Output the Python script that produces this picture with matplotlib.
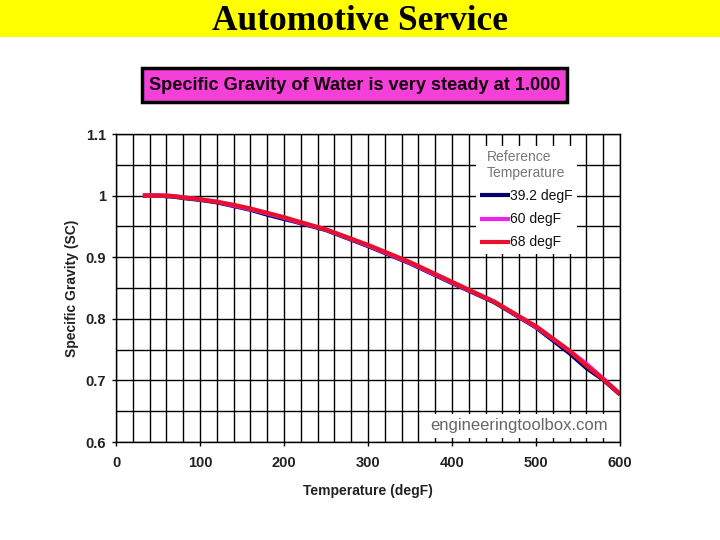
import matplotlib
matplotlib.use("Agg")
import matplotlib.pyplot as plt
from matplotlib.patches import Rectangle
import numpy as np

temps = [32, 40, 50, 60, 70, 80, 100, 120, 140, 160, 180, 200, 212, 250, 300, 350, 400, 450, 500, 540, 560, 580, 600]
sg_39 = [1.000, 1.000, 1.000, 0.999, 0.998, 0.996, 0.993, 0.989, 0.983, 0.977, 0.969, 0.962, 0.958, 0.944, 0.918, 0.890, 0.858, 0.827, 0.786, 0.744, 0.720, 0.701, 0.677]
sg_60 = [1.000, 1.000, 1.000, 1.000, 0.999, 0.997, 0.994, 0.990, 0.984, 0.978, 0.971, 0.964, 0.959, 0.945, 0.919, 0.891, 0.859, 0.828, 0.787, 0.748, 0.727, 0.703, 0.678]
sg_68 = [1.000, 1.000, 1.000, 1.000, 0.999, 0.997, 0.994, 0.990, 0.985, 0.979, 0.972, 0.965, 0.960, 0.945, 0.920, 0.892, 0.860, 0.828, 0.788, 0.748, 0.724, 0.702, 0.678]
series_labels = ["39.2 degF", "60 degF", "68 degF"]
series_colors = ["#000066", "#EE22E8", "#E8102C"]

title_text = "Automotive Service"
subtitle_text = "Specific Gravity of Water is very steady at 1.000"
xlabel = "Temperature (degF)"
ylabel = "Specific Gravity (SC)"
watermark = "engineeringtoolbox.com"

fig = plt.figure(figsize=(7.2, 5.4), dpi=100)
fig.patch.set_facecolor("white")

# yellow band
fig.patches.append(Rectangle((0, 1 - 37/540), 1, 37/540, transform=fig.transFigure,
                             facecolor="#FFFF00", edgecolor="none", zorder=0))
fig.text(360/720, 1 - 30/540, title_text, ha="center", va="baseline",
         fontsize=25.5, fontweight="bold", family="Liberation Serif", color="black")

# magenta box
fig.patches.append(Rectangle((142/720, 1 - 102/540), (567-142)/720, (102-68)/540,
                             transform=fig.transFigure, facecolor="#F43FD9",
                             edgecolor="black", linewidth=2.5, zorder=1))
fig.text(355/720, 1 - 85/540, subtitle_text, ha="center", va="center",
         fontsize=13.1, fontweight="bold", family="Liberation Sans", color="#12000a", zorder=2)

ax = fig.add_axes([116/720, 1 - 442/540, (620-116)/720, (442-134)/540])
ax.set_xlim(0, 600)
ax.set_ylim(0.6, 1.1)

ax.set_xticks(np.arange(0, 601, 100))
ax.set_yticks([0.6, 0.7, 0.8, 0.9, 1.0, 1.1])
ax.set_yticklabels(["0.6", "0.7", "0.8", "0.9", "1", "1.1"])
ax.set_xticks(np.arange(0, 601, 20), minor=True)
ax.set_yticks(np.arange(0.6, 1.1001, 0.05), minor=True)
ax.grid(which="both", color="black", linewidth=1.0)
ax.set_axisbelow(True)
ax.tick_params(which="major", length=3, width=1, color="black", labelsize=10.5, pad=4)
ax.tick_params(axis="x", which="major", pad=7)
ax.tick_params(which="minor", length=0)
for lab in ax.get_xticklabels() + ax.get_yticklabels():
    lab.set_fontweight("bold")
    lab.set_family("Liberation Sans")
    lab.set_color("#222222")
for s in ax.spines.values():
    s.set_color("black")
    s.set_linewidth(1.0)

for ys, lab, col in zip([sg_39, sg_60, sg_68], series_labels, series_colors):
    ax.plot(temps, ys, color=col, linewidth=3.0, label=lab, solid_capstyle="butt")

ax.set_xlabel(xlabel, fontsize=10, fontweight="bold", family="Liberation Sans", color="#222222", labelpad=10)
ax.set_ylabel(ylabel, fontsize=10, fontweight="bold", family="Liberation Sans", color="#222222", labelpad=5)

leg = ax.legend(title="Reference\nTemperature", loc="upper right",
                bbox_to_anchor=(584/720, 1 - 139/540), bbox_transform=fig.transFigure,
                frameon=True, fancybox=False, framealpha=1, edgecolor="white",
                handlelength=2.2, handletextpad=0.0, labelspacing=0.65,
                borderpad=0.3, prop={"family": "Liberation Sans", "size": 10})
leg.get_title().set_color("#777777")
leg.get_title().set_fontsize(10)
leg.get_title().set_family("Liberation Sans")
leg.get_frame().set_linewidth(0)
for t in leg.get_texts():
    t.set_color("#111111")

ax.text(0.975, 0.052, watermark, transform=ax.transAxes, ha="right", va="center",
        fontsize=12, color="#666666", family="Liberation Sans",
        bbox=dict(facecolor="white", edgecolor="none", pad=3))

fig.savefig("out.png", dpi=100)
